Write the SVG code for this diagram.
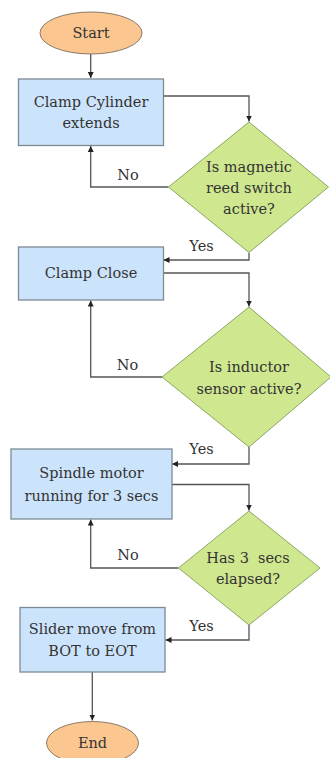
<svg xmlns="http://www.w3.org/2000/svg" width="330" height="758" viewBox="0 0 330 758">
<defs>
<style>
.term{fill:#fcc690;stroke:#8a7a68;stroke-width:1}
.proc{fill:#cce4fb;stroke:#7d8a96;stroke-width:1.3}
.dec{fill:#cfe78f;stroke:#8aa863;stroke-width:1}
.t{font-family:"DejaVu Serif","Liberation Serif",serif;font-size:14.5px;fill:#333;text-anchor:middle;dominant-baseline:central}
.c{fill:none;stroke:#555;stroke-width:1.3}
</style>
<marker id="ah" viewBox="0 0 10 10" refX="10" refY="5" markerWidth="6" markerHeight="6" markerUnits="userSpaceOnUse" orient="auto">
<path d="M0,0 L10,5 L0,10 z" fill="#222"/>
</marker>
</defs>
<rect width="330" height="758" fill="#fff"/>
<g id="connectors">
<path class="c" d="M90.7,54 V78" marker-end="url(#ah)"/>
<path class="c" d="M163.5,96 H249 V121.5" marker-end="url(#ah)"/>
<path class="c" d="M168.5,187 H90.7 V146" marker-end="url(#ah)"/>
<path class="c" d="M249,253 V260 H163.5" marker-end="url(#ah)"/>
<path class="c" d="M163.5,273 H249 V306.5" marker-end="url(#ah)"/>
<path class="c" d="M162,377 H90.7 V300.5" marker-end="url(#ah)"/>
<path class="c" d="M249,447 V464 H172" marker-end="url(#ah)"/>
<path class="c" d="M172,484.5 H249 V510.5" marker-end="url(#ah)"/>
<path class="c" d="M178.5,568 H90.7 V519.5" marker-end="url(#ah)"/>
<path class="c" d="M249,625 V640 H165.5" marker-end="url(#ah)"/>
<path class="c" d="M92.3,672 V720.5" marker-end="url(#ah)"/>
<text class="t" x="128" y="175">No</text>
<text class="t" x="201.5" y="246">Yes</text>
<text class="t" x="127.5" y="365">No</text>
<text class="t" x="201.5" y="449">Yes</text>
<text class="t" x="128" y="555">No</text>
<text class="t" x="201.5" y="626">Yes</text>
</g>
<g id="start">
<ellipse class="term" cx="91" cy="33" rx="51" ry="21"/>
<text class="t" x="91" y="33">Start</text>
</g>
<g id="clamp-cylinder">
<rect class="proc" x="18.5" y="79" width="145" height="66.5"/>
<text class="t" x="91" y="102">Clamp Cylinder</text>
<text class="t" x="91" y="123">extends</text>
</g>
<g id="reed-switch">
<polygon class="dec" points="249,122 328.5,187 249,252.5 168.5,187"/>
<text class="t" x="249" y="167">Is magnetic</text>
<text class="t" x="249" y="188">reed switch</text>
<text class="t" x="249" y="209">active?</text>
</g>
<g id="clamp-close">
<rect class="proc" x="18.5" y="247" width="145" height="53"/>
<text class="t" x="91" y="273">Clamp Close</text>
</g>
<g id="inductor">
<polygon class="dec" points="249,307 331,377 249,447 162,377"/>
<text class="t" x="249" y="367">Is inductor</text>
<text class="t" x="249" y="389">sensor active?</text>
</g>
<g id="spindle">
<rect class="proc" x="11" y="449" width="161" height="70"/>
<text class="t" x="91.5" y="473">Spindle motor</text>
<text class="t" x="91.5" y="495.5">running for 3 secs</text>
</g>
<g id="elapsed">
<polygon class="dec" points="249,511 320,568 249,625 178.5,568"/>
<text class="t" x="248" y="558" style="white-space:pre">Has 3  secs</text>
<text class="t" x="248" y="579">elapsed?</text>
</g>
<g id="slider">
<rect class="proc" x="20" y="607.5" width="145" height="64.5"/>
<text class="t" x="92.5" y="629">Slider move from</text>
<text class="t" x="92.5" y="650.5">BOT to EOT</text>
</g>
<g id="end">
<ellipse class="term" cx="92.5" cy="743" rx="46" ry="21.5"/>
<text class="t" x="92.5" y="743">End</text>
</g>
</svg>
